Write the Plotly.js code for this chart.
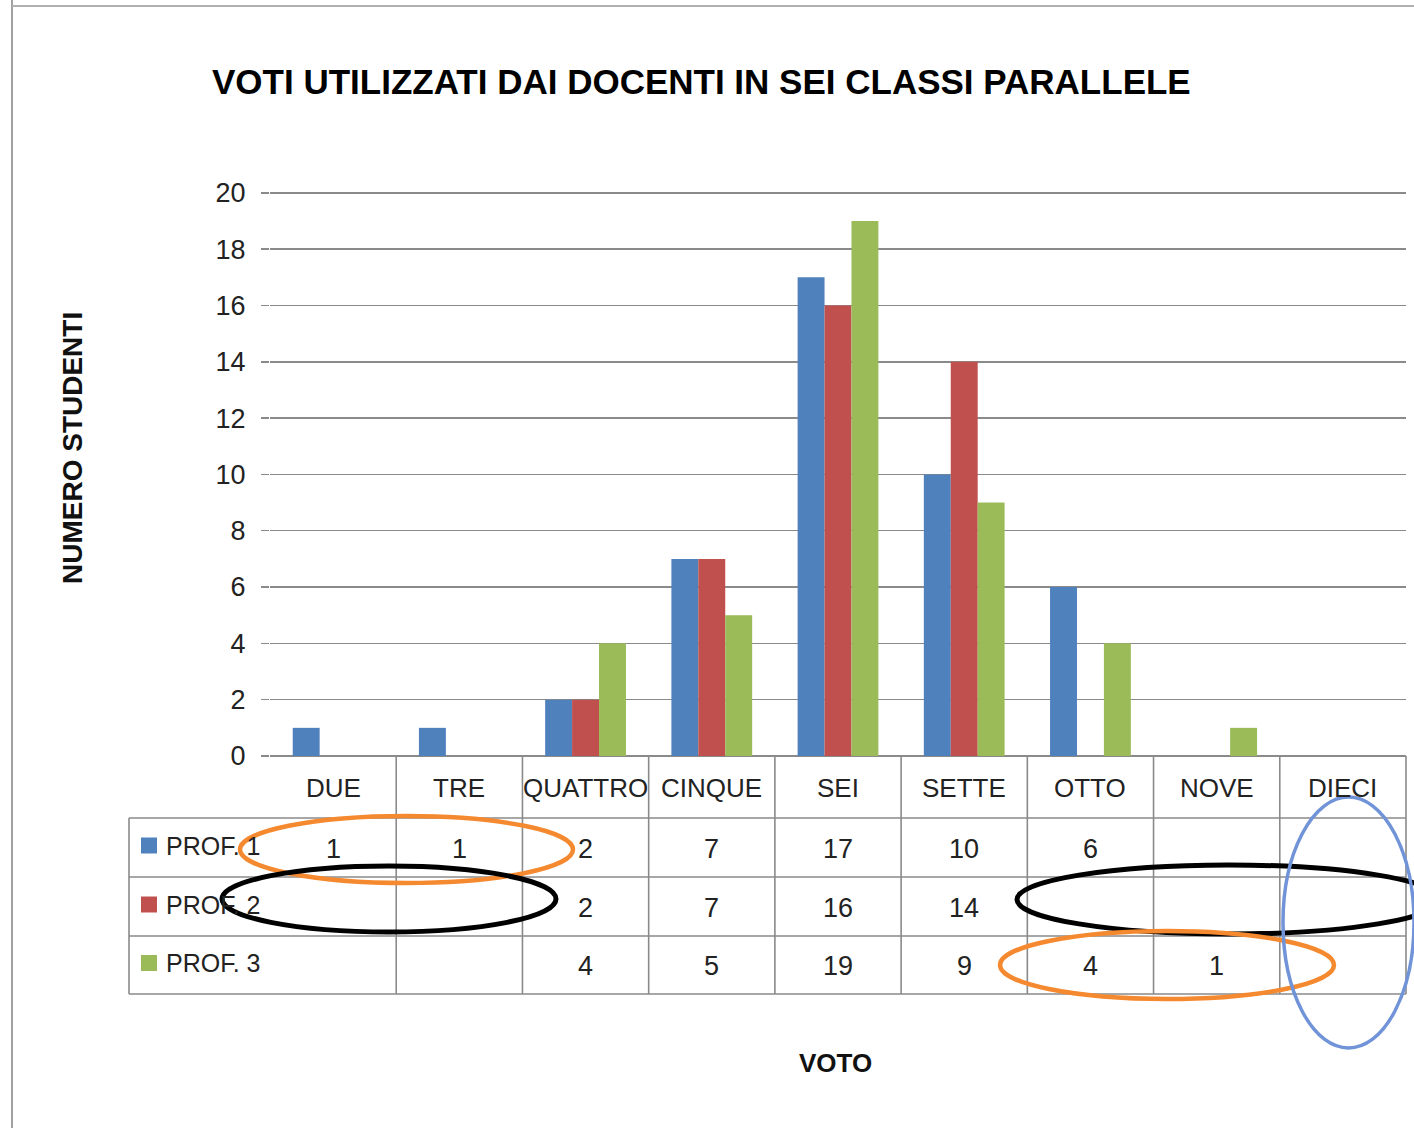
<!DOCTYPE html>
<html>
<head>
<meta charset="utf-8">
<script src="https://cdn.plot.ly/plotly-3.0.1.min.js"></script>
<style>html,body{margin:0;padding:0;background:#fff;}#chart{width:1414px;height:1128px;}</style>
</head>
<body>
<div id="chart"></div>
<script>
const categories = ['DUE','TRE','QUATTRO','CINQUE','SEI','SETTE','OTTO','NOVE','DIECI'];
const seriesNames = ['PROF. 1','PROF. 2','PROF. 3'];
const prof1 = [1, 1, 2, 7, 17, 10, 6, null, null];
const prof2 = [null, null, 2, 7, 16, 14, null, null, null];
const prof3 = [null, null, 4, 5, 19, 9, 4, 1, null];
const yTicks = [0, 2, 4, 6, 8, 10, 12, 14, 16, 18, 20];
const titleText = 'VOTI UTILIZZATI DAI DOCENTI IN SEI CLASSI PARALLELE';
const yTitleText = 'NUMERO STUDENTI';
const xTitleText = 'VOTO';

const colors = ['#4F81BD', '#C0504D', '#9BBB59'];
const seriesData = [prof1, prof2, prof3];

const W = 1414, H = 1128;
const M = {l: 270, r: 8, t: 190, b: 372};
const PW = W - M.l - M.r, PH = H - M.t - M.b;
const px = X => (X - M.l) / PW;
const py = Y => (H - M.b - Y) / PH;

const sans = 'Liberation Sans, Arial, sans-serif';
const txtColor = '#222';
const lineGray = '#8a8a8a';

const traces = seriesData.map((d, k) => ({
  type: 'bar', x: categories, y: d, name: seriesNames[k],
  marker: {color: colors[k]}, hoverinfo: 'x+y+name'
}));

const shapes = [];
const annotations = [];
const n = categories.length;
const rowTop = [818, 877, 936];
const rowBottom = 994;
const headerTop = 756;
const tableLeft = 129;
[818, 877, 936, 994].forEach(Y => shapes.push({type: 'line', xref: 'paper', yref: 'paper',
  x0: px(tableLeft), x1: 1, y0: py(Y), y1: py(Y), line: {color: lineGray, width: 1.6}}));
for (let i = 1; i <= n; i++) {
  shapes.push({type: 'line', xref: 'paper', yref: 'paper', x0: i / n, x1: i / n,
    y0: py(headerTop), y1: py(rowBottom), line: {color: lineGray, width: 1.6}});
}
shapes.push({type: 'line', xref: 'paper', yref: 'paper', x0: px(tableLeft), x1: px(tableLeft),
  y0: py(818), y1: py(rowBottom), line: {color: lineGray, width: 1.6}});
categories.forEach((c, i) => annotations.push({xref: 'x', yref: 'paper', x: i, y: py(788),
  text: c, showarrow: false, xanchor: 'center', yanchor: 'middle',
  font: {family: sans, size: 26, color: txtColor}}));
seriesData.forEach((d, k) => {
  const yc = (rowTop[k] + (k < 2 ? rowTop[k + 1] : rowBottom)) / 2;
  shapes.push({type: 'rect', xref: 'paper', yref: 'paper', x0: px(141), x1: px(157),
    y0: py(yc - 10), y1: py(yc + 6), fillcolor: colors[k], line: {width: 0}});
  annotations.push({xref: 'paper', yref: 'paper', x: px(164), y: py(yc - 2), text: seriesNames[k],
    showarrow: false, xanchor: 'left', yanchor: 'middle',
    font: {family: sans, size: 25, color: txtColor}});
  d.forEach((v, i) => {
    if (v !== null) annotations.push({xref: 'x', yref: 'paper', x: i, y: py(yc + 1), text: String(v),
      showarrow: false, xanchor: 'center', yanchor: 'middle',
      font: {family: sans, size: 27, color: txtColor}});
  });
});
annotations.push({xref: 'paper', yref: 'paper', x: px(72), y: py(448), text: yTitleText, textangle: -90,
  showarrow: false, xanchor: 'center', yanchor: 'middle',
  font: {family: sans, size: 28, color: '#111', weight: 'bold'}});
annotations.push({xref: 'paper', yref: 'paper', x: px(835), y: py(1063), text: xTitleText,
  showarrow: false, xanchor: 'center', yanchor: 'middle',
  font: {family: sans, size: 26, color: '#111', weight: 'bold'}});
shapes.push({type: 'line', xref: 'paper', yref: 'paper', x0: px(12), x1: px(12), y0: py(0), y1: py(H),
  line: {color: '#a0a0a0', width: 2}});
shapes.push({type: 'line', xref: 'paper', yref: 'paper', x0: px(12), x1: px(W), y0: py(6), y1: py(6),
  line: {color: '#b0b0b0', width: 2}});
function ell(x0, y0, x1, y1, color, w) {
  shapes.push({type: 'circle', xref: 'paper', yref: 'paper', x0: px(x0), x1: px(x1), y0: py(y1), y1: py(y0),
    line: {color: color, width: w}, fillcolor: 'rgba(0,0,0,0)'});
}
ell(240, 816, 573, 883, '#F5892F', 4.5);
ell(222, 866, 556, 932, '#000000', 5);
ell(1017, 865, 1440, 934, '#000000', 5);
ell(1000, 931, 1334, 999, '#F5892F', 4.5);
ell(1283, 797, 1414, 1048, '#7193D8', 3.5);

const layout = {
  width: W, height: H,
  margin: M,
  paper_bgcolor: '#ffffff', plot_bgcolor: '#ffffff',
  showlegend: false,
  barmode: 'group', bargap: 0.36, bargroupgap: 0,
  title: {text: titleText, x: 212 / W, xanchor: 'left', xref: 'container', y: 1 - 82 / H, yanchor: 'middle',
    font: {family: sans, size: 35, color: '#000', weight: 'bold'}},
  xaxis: {type: 'category', range: [-0.5, n - 0.5], showticklabels: false, showgrid: false,
    showline: false, zeroline: false, ticks: '', fixedrange: true},
  yaxis: {range: [0, 20.1], tickvals: yTicks, ticktext: yTicks.map(String), showgrid: true,
    gridcolor: lineGray, gridwidth: 1.5, zeroline: true, zerolinecolor: lineGray, zerolinewidth: 1.8,
    ticks: 'outside', ticklen: 8, tickcolor: lineGray, tickwidth: 1.5, showline: false, ticklabelstandoff: 10,
    tickfont: {family: sans, size: 27, color: txtColor}, fixedrange: true},
  shapes: shapes,
  annotations: annotations
};
Plotly.newPlot('chart', traces, layout, {displayModeBar: false, staticPlot: true});
</script>
</body>
</html>
